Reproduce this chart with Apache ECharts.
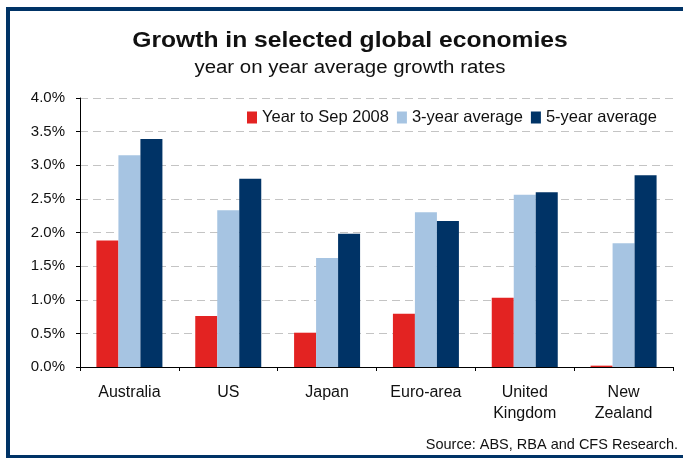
<!DOCTYPE html>
<html>
<head>
<meta charset="utf-8">
<script src="https://cdn.jsdelivr.net/npm/echarts@6/dist/echarts.min.js"></script>
<style>
html,body{margin:0;padding:0;background:#fff;}
#c{width:683px;height:458px;}
</style>
</head>
<body>
<div id="c"></div>
<script>
const categories = ['Australia', 'US', 'Japan', 'Euro-area', 'United\nKingdom', 'New\nZealand'];
const seriesNames = ['Year to Sep 2008', '3-year average', '5-year average'];
const yearToSep2008 = [1.88, 0.76, 0.51, 0.79, 1.03, 0.02];
const threeYearAvg = [3.15, 2.33, 1.62, 2.30, 2.56, 1.84];
const fiveYearAvg = [3.39, 2.80, 1.98, 2.17, 2.60, 2.85];
const yTicks = [0, 0.5, 1.0, 1.5, 2.0, 2.5, 3.0, 3.5, 4.0];

const font = 'Liberation Sans, Arial, sans-serif';
const colors = ['#e32322', '#a6c4e2', '#003366'];

const chart = echarts.init(document.getElementById('c'));
chart.setOption({
  animation: false,
  color: colors,
  legend: {
    data: seriesNames, left: 242, top: 104, itemWidth: 10, itemHeight: 12, itemGap: 8,
    icon: 'rect', textStyle: {fontFamily: font, fontSize: 16.5, color: '#111'}
  },
  grid: {left: 80, right: 10, top: 98, bottom: 91},
  xAxis: {
    type: 'category', data: categories,
    axisLine: {lineStyle: {color: '#000', width: 1}},
    axisTick: {show: true, length: 4, alignWithLabel: false, lineStyle: {color: '#000'}},
    axisLabel: {fontFamily: font, fontSize: 16, color: '#111', margin: 15, lineHeight: 21, interval: 0}
  },
  yAxis: {
    type: 'value', min: yTicks[0], max: yTicks[yTicks.length - 1], interval: 0.5,
    axisLine: {show: true, lineStyle: {color: '#000', width: 1}},
    axisTick: {show: true, length: 4, lineStyle: {color: '#000'}},
    splitLine: {show: true, lineStyle: {color: '#c4c4c4', type: [8, 5], width: 1}},
    axisLabel: {fontFamily: font, fontSize: 15, color: '#111', margin: 15,
      formatter: v => v.toFixed(1) + '%'}
  },
  series: [
    {name: seriesNames[0], type: 'bar', data: yearToSep2008, barWidth: 22, barGap: '0%'},
    {name: seriesNames[1], type: 'bar', data: threeYearAvg, barWidth: 22, barGap: '0%'},
    {name: seriesNames[2], type: 'bar', data: fiveYearAvg, barWidth: 22, barGap: '0%'}
  ],
  graphic: [
    {type: 'rect', shape: {x: 8, y: 9, width: 700, height: 448}, silent: true,
     style: {fill: 'none', stroke: '#003366', lineWidth: 4}},
    {type: 'text', x: 350, y: 41, scaleX: 1.12, silent: true,
     style: {text: 'Growth in selected global economies', fontFamily: font, fontSize: 22,
       fontWeight: 'bold', fill: '#111', textAlign: 'center', textVerticalAlign: 'middle'}},
    {type: 'text', x: 350, y: 68, scaleX: 1.135, silent: true,
     style: {text: 'year on year average growth rates', fontFamily: font, fontSize: 18,
       fill: '#111', textAlign: 'center', textVerticalAlign: 'middle'}},
    {type: 'text', x: 678, y: 445, silent: true,
     style: {text: 'Source: ABS, RBA and CFS Research.', fontFamily: font, fontSize: 14.5,
       fill: '#111', textAlign: 'right', textVerticalAlign: 'middle'}}
  ]
});
</script>
</body>
</html>
